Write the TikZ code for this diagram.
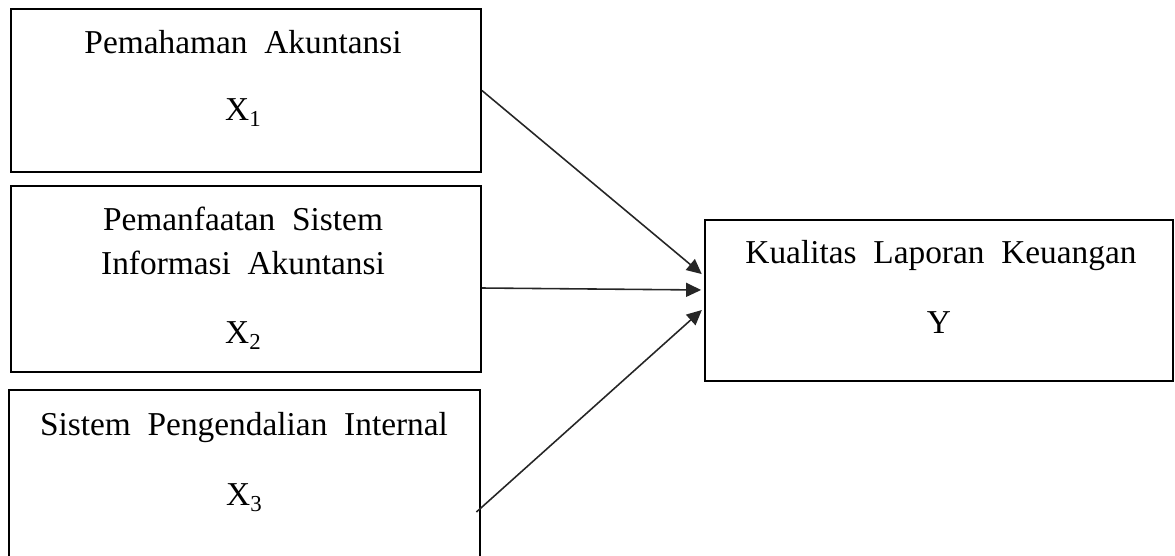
\documentclass[tikz,border=0pt]{standalone}
\usepackage{fontspec}
\setmainfont{Liberation Serif}[WordSpace={2}]
\usetikzlibrary{arrows.meta}
\newcommand{\varx}[1]{X\raisebox{-0.45ex}{\fontsize{13}{13}\selectfont #1}}
\tikzset{
	kotak/.style={draw, line width=1.1pt, inner sep=0pt},
	teks/.style={anchor=base, inner sep=0pt, font=\fontsize{19}{23}\selectfont},
	panah/.style={line width=0.9pt, color=black!85, -{Triangle[length=0.3cm, width=0.28cm]}, shorten >=0.06cm}
}

\begin{document}
\begin{tikzpicture}[x=0.02cm, y=-0.02cm]
			%%%%% START %%%%%
			\useasboundingbox (0, 0) rectangle (1175, 555);
			
			\node[kotak, minimum width=9.4cm, minimum height=3.26cm] (x1) at (246, 90.5) {};
			\node[kotak, minimum width=9.4cm, minimum height=3.72cm] (x2) at (246, 279) {};
			\node[kotak, minimum width=9.42cm, minimum height=3.8cm] (x3) at (244.5, 485) {};
			\node[kotak, minimum width=9.36cm, minimum height=3.22cm] (ky) at (939, 300.5) {};
			
			\node[teks] (j1) at (243, 53) {Pemahaman Akuntansi};
			\node[teks] (v1) at (243, 120) {\varx{1}};
			
			\node[teks] (j2a) at (243, 230) {Pemanfaatan Sistem};
			\node[teks] (j2b) at (243, 274) {Informasi Akuntansi};
			\node[teks] (v2) at (243, 343) {\varx{2}};
			
			\node[teks] (j3) at (244, 435) {Sistem Pengendalian Internal};
			\node[teks] (v3) at (244, 505) {\varx{3}};
			
			\node[teks] (jy) at (941, 263) {Kualitas Laporan Keuangan};
			\node[teks] (vy) at (939, 333) {Y};
			
			\draw[panah] (x1.east) -- ([yshift=0.49cm]ky.west);
			\draw[panah] ([yshift=-0.18cm]x2.east) -- ([yshift=0.21cm]ky.west);
			\draw[panah] ([xshift=-0.09cm, yshift=-0.54cm]x3.east) -- ([yshift=-0.15cm]ky.west);
			
			%%%%% END %%%%%
\end{tikzpicture}
\end{document}
